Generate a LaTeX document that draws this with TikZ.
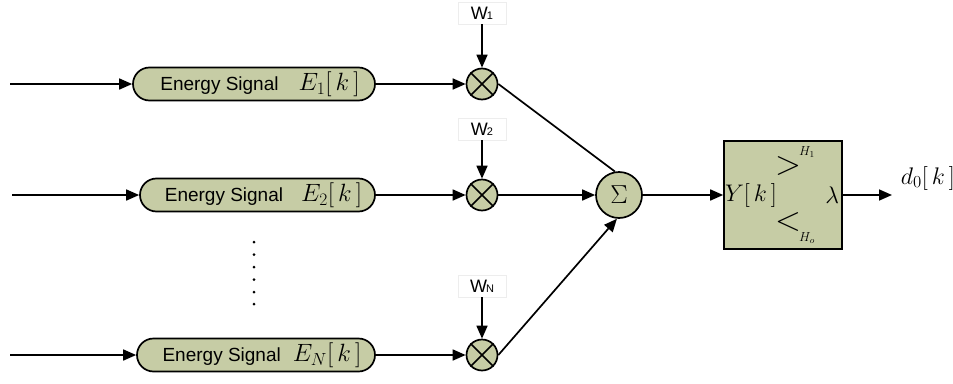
\documentclass[tikz,border=0pt]{standalone}
\usepackage{fontspec}
\setmainfont{Liberation Sans}
\usepackage{fix-cm}
\usetikzlibrary{arrows.meta,shapes.misc}
\definecolor{olivefill}{RGB}{198,204,165}
\newcommand{\es}[2]{\hspace*{12pt}{\fontsize{19}{21}\selectfont Energy Signal}\hspace{#1}{\fontsize{25}{27}\selectfont$#2[\,k\,]$}}
\newcommand{\wl}[1]{{\fontsize{18}{20}\selectfont W\kern-1pt{\fontsize{11}{12}\selectfont #1}}}
\begin{document}
\begin{tikzpicture}[x=1pt,y=-1pt,
  line width=1.7pt,
  arr/.style={-{Triangle[length=13pt,width=11pt]}},
  pill/.style={draw,fill=olivefill,rounded rectangle,minimum height=33pt,inner sep=0pt},
  mult/.style={draw,fill=olivefill,circle,minimum size=31pt,inner sep=0pt},
  wlab/.style={draw=black!7,line width=0.5pt,fill=white,minimum width=48pt,minimum height=22pt,inner sep=0pt}]
\useasboundingbox (0,0) rectangle (953,383);
% inputs
\coordinate (i1) at (10,84);
\coordinate (i2) at (12,195);
\coordinate (i3) at (10,355);
% pills
\node[pill,minimum width=242pt] (p1) at (254,84) {\es{20pt}{E_1}};
\node[pill,minimum width=235pt] (p2) at (257.5,195) {\es{18pt}{E_2}};
\node[pill,minimum width=238pt] (p3) at (256,355) {\es{12pt}{E_N}};
% multipliers
\node[mult] (m1) at (482,84) {};
\node[mult] (m2) at (482,195) {};
\node[mult] (m3) at (482,355) {};
\foreach \m in {m1,m2,m3}{
  \draw (\m.45) -- (\m.225) (\m.135) -- (\m.315);
}
% weights
\node[wlab] (w1) at (482,13) {\wl{1}};
\node[wlab] (w2) at (482,129) {\wl{2}};
\node[wlab] (w3) at (482,286) {\wl{N}};
% sum
\node[draw,fill=olivefill,circle,minimum size=46pt,inner sep=0pt,font=\fontsize{26}{28}\selectfont] (s) at (619,195) {$\Sigma$};
% detector box
\node[draw,fill=olivefill,minimum width=118pt,minimum height=108pt,inner sep=0pt] (b) at (783,195) {};
\node[font=\fontsize{24}{26}\selectfont,anchor=west,inner sep=1pt] (yk) at (b.west) {$Y[\,k\,]$};
\node[font=\fontsize{24}{26}\selectfont,anchor=east,inner sep=3pt] (lam) at (b.east) {$\lambda$};
\node[font=\fontsize{34}{36}\selectfont] (gt) at (788,166) {$>$};
\node[font=\fontsize{34}{36}\selectfont] (lt) at (788,222) {$<$};
\node[font=\fontsize{13}{14}\selectfont] (h1) at (807,152) {$H_1$};
\node[font=\fontsize{13}{14}\selectfont] (h0) at (807,238) {$H_o$};
\coordinate (out) at (892,195);
\node[font=\fontsize{24}{26}\selectfont,anchor=west,inner sep=0pt] (d0) at (900,178) {$d_0[\,k\,]$};
% dots
\foreach \yy in {242,254.5,267,279.5,292,304}{ \fill (254,\yy) circle (1.5pt); }
% connectors
\draw[arr] (i1) -- (p1.west);
\draw[arr] (i2) -- (p2.west);
\draw[arr] (i3) -- (p3.west);
\draw[arr] (p1.east) -- (m1.west);
\draw[arr] (p2.east) -- (m2.west);
\draw[arr] (p3.east) -- (m3.west);
\draw[arr] (w1.south) -- (m1.north);
\draw[arr] (w2.south) -- (m2.north);
\draw[arr] (w3.south) -- (m3.north);
\draw (m1.east) -- (s.100);
\draw[arr] (m2.east) -- (s.west);
\draw[arr] (m3.east) -- (s.265);
\draw[arr] (s.east) -- (b.west);
\draw[arr] (b.east) -- (out);
\end{tikzpicture}
\end{document}
